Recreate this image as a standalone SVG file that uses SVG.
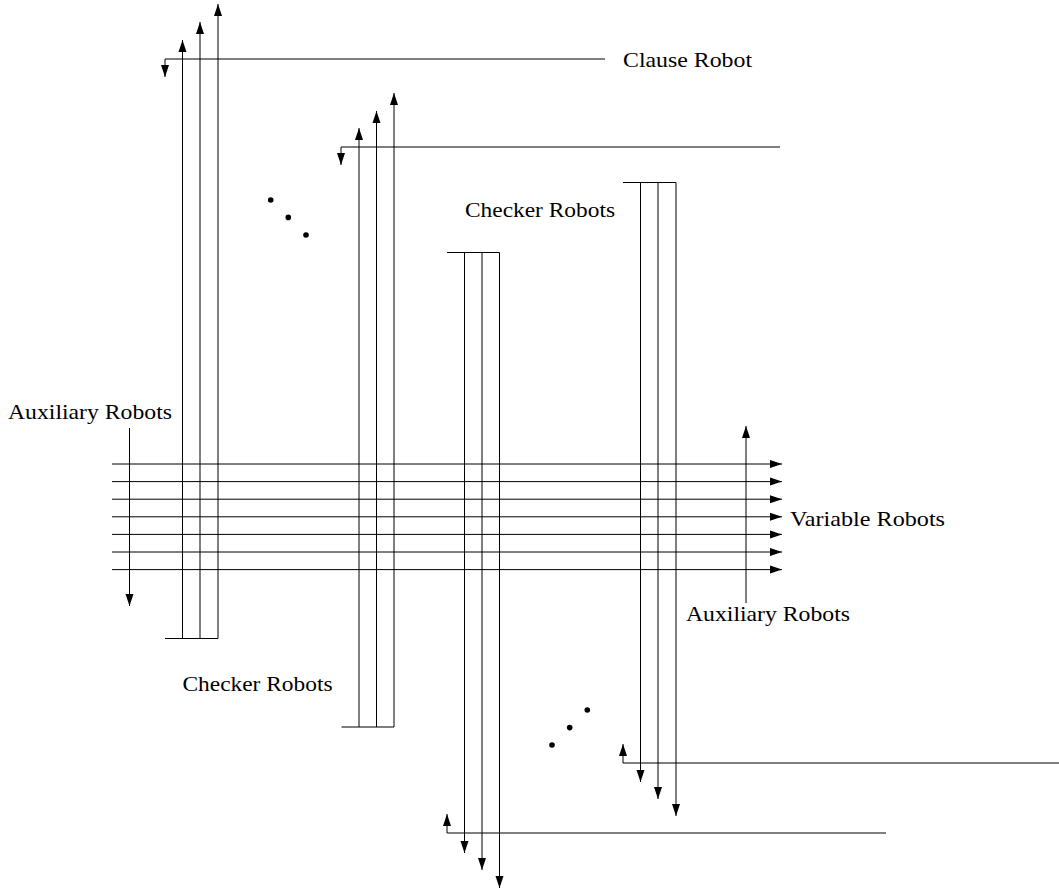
<svg xmlns="http://www.w3.org/2000/svg" width="1059" height="888" viewBox="0 0 1059 888">
  <style>
    .ln { stroke: #000; stroke-width: 1; fill: none; }
    .ar { stroke: #000; stroke-width: 1; fill: none; marker-end: url(#tip); }
    .lbl { font-family: "Liberation Serif", "DejaVu Serif", serif; font-size: 21px; fill: #000; }
    .dot { fill: #000; }
  </style>
  <defs>
    <marker id="tip" markerUnits="userSpaceOnUse" markerWidth="12" markerHeight="8" refX="12" refY="4" orient="auto" overflow="visible">
      <path d="M0,0 L12,4 L0,8 Z" fill="#000"/>
    </marker>
  </defs>
  <rect width="1059" height="888" fill="#fff"/>

  <g id="connectors">
    <!-- variable robots: seven parallel tracks -->
    <g id="variable-tracks">
      <path class="ar" d="M112,464 H782"/>
      <path class="ar" d="M112,481.6 H782"/>
      <path class="ar" d="M112,499.2 H782"/>
      <path class="ar" d="M112,516.8 H782"/>
      <path class="ar" d="M112,534.4 H782"/>
      <path class="ar" d="M112,552 H782"/>
      <path class="ar" d="M112,569.6 H782"/>
    </g>
    <!-- auxiliary robots -->
    <path class="ar" d="M129.5,428 V606"/>
    <path class="ar" d="M746,603 V426"/>
  </g>

  <!-- clause block, upper left -->
  <g id="clause-a">
    <path class="ln" d="M165,59 H605"/>
    <path class="ar" d="M165,59 V77"/>
    <path class="ln" d="M165,638.5 H218"/>
    <path class="ar" d="M182.5,638.5 V40"/>
    <path class="ar" d="M200,638.5 V22"/>
    <path class="ar" d="M218,638.5 V4"/>
  </g>

  <!-- clause block, second -->
  <g id="clause-b">
    <path class="ln" d="M341,147 H780"/>
    <path class="ar" d="M341,147 V165"/>
    <path class="ln" d="M341.5,727 H394"/>
    <path class="ar" d="M359,727 V128"/>
    <path class="ar" d="M376.5,727 V111"/>
    <path class="ar" d="M394,727 V93"/>
  </g>

  <!-- clause block, lower middle -->
  <g id="clause-c">
    <path class="ln" d="M447,252.5 H499.5"/>
    <path class="ar" d="M464.5,252.5 V853"/>
    <path class="ar" d="M482,252.5 V870"/>
    <path class="ar" d="M499.5,252.5 V888"/>
    <path class="ln" d="M447,833 H886"/>
    <path class="ar" d="M447,833 V814"/>
  </g>

  <!-- clause block, lower right -->
  <g id="clause-d">
    <path class="ln" d="M623,182.5 H676"/>
    <path class="ar" d="M640.5,182.5 V782"/>
    <path class="ar" d="M658,182.5 V799"/>
    <path class="ar" d="M676,182.5 V816"/>
    <path class="ln" d="M623,763 H1059"/>
    <path class="ar" d="M623,763 V744"/>
  </g>

  <!-- ellipses between blocks -->
  <g id="ellipsis-upper">
    <circle class="dot" cx="270.7" cy="200" r="2.8"/>
    <circle class="dot" cx="288.3" cy="217.4" r="2.8"/>
    <circle class="dot" cx="306" cy="235" r="2.8"/>
  </g>
  <g id="ellipsis-lower">
    <circle class="dot" cx="587.3" cy="710" r="2.8"/>
    <circle class="dot" cx="569.7" cy="727.6" r="2.8"/>
    <circle class="dot" cx="552" cy="745" r="2.8"/>
  </g>

  <!-- labels -->
  <g id="labels">
    <text class="lbl" x="623" y="67" textLength="129" lengthAdjust="spacingAndGlyphs">Clause Robot</text>
    <text class="lbl" x="465" y="216.5" textLength="150" lengthAdjust="spacingAndGlyphs">Checker Robots</text>
    <text class="lbl" x="8" y="419" textLength="164" lengthAdjust="spacingAndGlyphs">Auxiliary Robots</text>
    <text class="lbl" x="790" y="526" textLength="155" lengthAdjust="spacingAndGlyphs">Variable Robots</text>
    <text class="lbl" x="686" y="621" textLength="164" lengthAdjust="spacingAndGlyphs">Auxiliary Robots</text>
    <text class="lbl" x="182.5" y="690.5" textLength="150" lengthAdjust="spacingAndGlyphs">Checker Robots</text>
  </g>
</svg>
